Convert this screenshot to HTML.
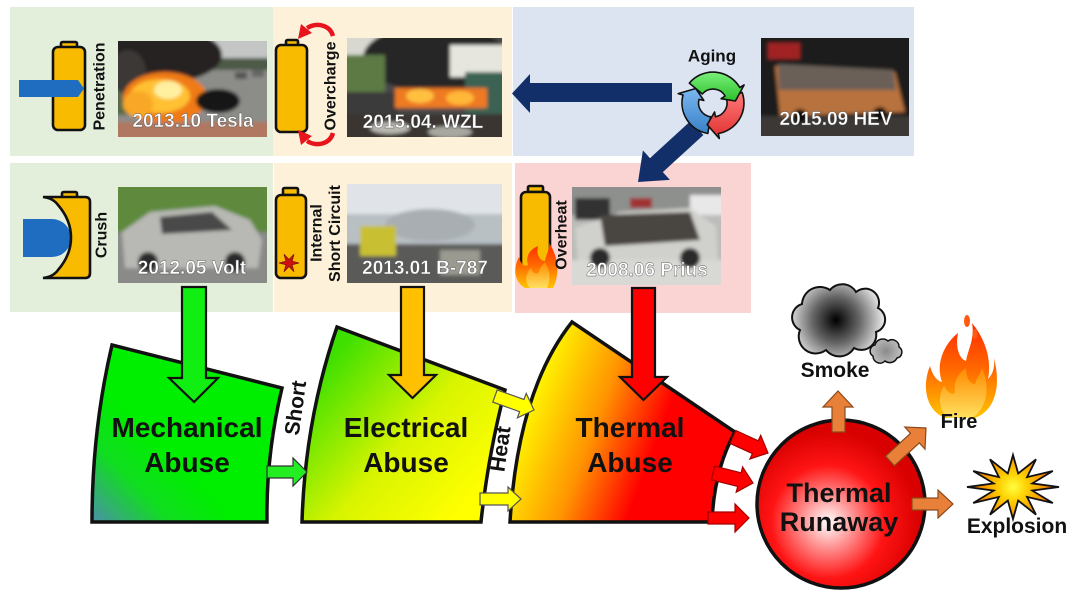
<!DOCTYPE html>
<html><head><meta charset="utf-8"><style>html,body{margin:0;padding:0;background:#fff;}svg{display:block;}</style></head>
<body>
<svg width="1080" height="595" viewBox="0 0 1080 595" xmlns="http://www.w3.org/2000/svg" font-family="'Liberation Sans', Arial, sans-serif" font-weight="bold">
<defs>
<filter id="bl" x="-10%" y="-10%" width="120%" height="120%"><feGaussianBlur stdDeviation="1.8"/></filter>
<clipPath id="c1"><rect x="118" y="41" width="149" height="96"/></clipPath>
<clipPath id="c2"><rect x="347" y="38" width="155" height="99"/></clipPath>
<clipPath id="c3"><rect x="761" y="38" width="148" height="98"/></clipPath>
<clipPath id="c4"><rect x="118" y="187" width="149" height="96"/></clipPath>
<clipPath id="c5"><rect x="347" y="184" width="155" height="99"/></clipPath>
<clipPath id="c6"><rect x="572" y="187" width="149" height="98"/></clipPath>
<linearGradient id="gMech" gradientUnits="userSpaceOnUse" x1="92" y1="522" x2="165" y2="450"><stop offset="0" stop-color="#4a90a8"/><stop offset="0.55" stop-color="#10dd20"/><stop offset="1" stop-color="#00ee00"/></linearGradient>
<linearGradient id="gElec" gradientUnits="userSpaceOnUse" x1="320" y1="370" x2="470" y2="500"><stop offset="0" stop-color="#3ee000"/><stop offset="0.55" stop-color="#d8f400"/><stop offset="1" stop-color="#ffff00"/></linearGradient>
<linearGradient id="gTherm" gradientUnits="userSpaceOnUse" x1="530" y1="380" x2="690" y2="440"><stop offset="0" stop-color="#ffff00"/><stop offset="0.45" stop-color="#ff9400"/><stop offset="0.82" stop-color="#ff0000"/><stop offset="1" stop-color="#ff0000"/></linearGradient>
<radialGradient id="gCirc" gradientUnits="userSpaceOnUse" cx="828" cy="522" r="92"><stop offset="0" stop-color="#ffffff"/><stop offset="0.3" stop-color="#ff8a8a"/><stop offset="0.62" stop-color="#ff1414"/><stop offset="1" stop-color="#d80000"/></radialGradient>
<radialGradient id="gSmoke" gradientUnits="userSpaceOnUse" cx="836" cy="320" r="52"><stop offset="0" stop-color="#000"/><stop offset="0.45" stop-color="#666"/><stop offset="1" stop-color="#fff"/></radialGradient>
<radialGradient id="gSmoke2" gradientUnits="userSpaceOnUse" cx="886" cy="351" r="18"><stop offset="0" stop-color="#8a8a8a"/><stop offset="1" stop-color="#c8c8c8"/></radialGradient>
<linearGradient id="gFire" x1="0" y1="0" x2="0" y2="1"><stop offset="0" stop-color="#ff2a00"/><stop offset="0.5" stop-color="#ff6a00"/><stop offset="1" stop-color="#ffc400"/></linearGradient>
<linearGradient id="gFire2" x1="0" y1="0" x2="0" y2="1"><stop offset="0" stop-color="#ff8a00"/><stop offset="1" stop-color="#ffe060"/></linearGradient>
<radialGradient id="gExp" gradientUnits="userSpaceOnUse" cx="1013" cy="487" r="40"><stop offset="0" stop-color="#ffff40"/><stop offset="0.35" stop-color="#ffd000"/><stop offset="1" stop-color="#f07000"/></radialGradient>
<linearGradient id="gGreen" x1="0" y1="0" x2="0" y2="1"><stop offset="0" stop-color="#7af07a"/><stop offset="1" stop-color="#2cc02c"/></linearGradient>
<linearGradient id="gRed" x1="0" y1="0" x2="0" y2="1"><stop offset="0" stop-color="#ff7a7a"/><stop offset="1" stop-color="#e03030"/></linearGradient>
<linearGradient id="gBlue" x1="0" y1="0" x2="0" y2="1"><stop offset="0" stop-color="#7ab8ef"/><stop offset="1" stop-color="#3a80c8"/></linearGradient>
</defs>

<!-- panels -->
<rect x="10" y="7" width="263" height="149" fill="#e3eedb"/>
<rect x="273" y="7" width="239" height="149" fill="#fdf1d9"/>
<rect x="513" y="7" width="401" height="149" fill="#dce3f1"/>
<rect x="10" y="163" width="263" height="149" fill="#e3eedb"/>
<rect x="274" y="163" width="238" height="149" fill="#fdf1d9"/>
<rect x="515" y="163" width="236" height="150" fill="#fad4d3"/>

<!-- photo: Tesla -->
<g clip-path="url(#c1)"><g filter="url(#bl)">
<rect x="110" y="35" width="165" height="110" fill="#8c8c88"/>
<rect x="200" y="35" width="75" height="28" fill="#c4c6c6"/>
<rect x="210" y="58" width="65" height="12" fill="#4e5a46"/>
<rect x="110" y="80" width="40" height="35" fill="#5a6a4a"/>
<ellipse cx="160" cy="55" rx="62" ry="28" fill="#262322"/>
<ellipse cx="128" cy="72" rx="18" ry="22" fill="#3a3836"/>
<ellipse cx="165" cy="98" rx="42" ry="26" fill="#f07a18"/>
<ellipse cx="160" cy="96" rx="30" ry="17" fill="#ffc030"/>
<ellipse cx="168" cy="90" rx="14" ry="9" fill="#fff0a0"/>
<ellipse cx="138" cy="104" rx="15" ry="13" fill="#f8a828"/>
<ellipse cx="218" cy="101" rx="22" ry="12" fill="#161616"/>
<rect x="235" y="72" width="12" height="7" fill="#555"/>
<rect x="252" y="70" width="12" height="7" fill="#666"/>
<rect x="110" y="122" width="165" height="20" fill="#b07860"/>
</g></g>
<!-- photo: WZL -->
<g clip-path="url(#c2)"><g filter="url(#bl)">
<rect x="340" y="30" width="170" height="115" fill="#4a4a48"/>
<rect x="340" y="30" width="50" height="25" fill="#d8d8d0"/>
<ellipse cx="435" cy="58" rx="72" ry="34" fill="#252525"/>
<rect x="340" y="55" width="45" height="42" fill="#5d7a45"/>
<rect x="450" y="45" width="60" height="32" fill="#e6e6de"/>
<rect x="465" y="72" width="45" height="70" fill="#3a6252"/>
<rect x="340" y="92" width="58" height="22" fill="#3a3a3a"/>
<rect x="395" y="88" width="92" height="20" fill="#ee7a22"/>
<ellipse cx="420" cy="96" rx="14" ry="7" fill="#ffc040"/>
<ellipse cx="460" cy="98" rx="14" ry="7" fill="#ffb838"/>
<rect x="340" y="114" width="170" height="30" fill="#3a3632"/>
<ellipse cx="390" cy="128" rx="20" ry="6" fill="#b8b8b0"/>
<ellipse cx="450" cy="132" rx="22" ry="6" fill="#a8a8a0"/>
</g></g>
<!-- photo: HEV -->
<g clip-path="url(#c3)"><g filter="url(#bl)">
<rect x="755" y="30" width="160" height="115" fill="#1e1c1c"/>
<rect x="768" y="43" width="32" height="16" fill="#a02424"/>
<polygon points="775,66 895,72 905,112 780,116" fill="#b8723e"/>
<polygon points="778,64 893,70 896,90 779,90" fill="#6a6058"/>
<rect x="755" y="116" width="160" height="25" fill="#3a3836"/>
<circle cx="800" cy="116" r="7" fill="#111"/>
<circle cx="880" cy="114" r="7" fill="#111"/>
</g></g>
<!-- photo: Volt -->
<g clip-path="url(#c4)"><g filter="url(#bl)">
<rect x="110" y="180" width="165" height="110" fill="#8a8a88"/>
<rect x="110" y="180" width="165" height="52" fill="#5e8a3e"/>
<polygon points="122,232 150,212 215,206 250,220 262,240 258,268 125,268" fill="#b8b8b4"/>
<polygon points="160,217 212,212 232,230 162,234" fill="#484848"/>
<circle cx="148" cy="262" r="10" fill="#2a2a2a"/>
<circle cx="235" cy="262" r="10" fill="#2a2a2a"/>
</g></g>
<!-- photo: B-787 -->
<g clip-path="url(#c5)"><g filter="url(#bl)">
<rect x="340" y="178" width="170" height="110" fill="#8a8c8e"/>
<rect x="340" y="178" width="170" height="38" fill="#e0e4e8"/>
<rect x="340" y="214" width="170" height="30" fill="#b8c0c4"/>
<ellipse cx="430" cy="225" rx="45" ry="16" fill="#a8aeb2"/>
<rect x="340" y="244" width="170" height="45" fill="#5a5a58"/>
<rect x="360" y="226" width="36" height="30" fill="#c8c030"/>
<rect x="440" y="250" width="40" height="25" fill="#9a9a90"/>
</g></g>
<!-- photo: Prius -->
<g clip-path="url(#c6)"><g filter="url(#bl)">
<rect x="565" y="180" width="165" height="110" fill="#bcbcba"/>
<rect x="565" y="180" width="165" height="35" fill="#8e908e"/>
<rect x="575" y="198" width="35" height="22" fill="#303030"/>
<rect x="630" y="198" width="22" height="10" fill="#a03030"/>
<rect x="690" y="195" width="35" height="20" fill="#e8e8e8"/>
<polygon points="575,228 620,212 690,208 716,226 718,262 578,262" fill="#d0d0cc"/>
<polygon points="600,215 690,212 700,240 605,246" fill="#4a4540"/>
<rect x="565" y="260" width="165" height="30" fill="#d8d8d4"/>
<circle cx="600" cy="258" r="10" fill="#2a2a2a"/>
<circle cx="690" cy="258" r="10" fill="#2a2a2a"/>
</g></g>

<!-- captions -->
<g fill="#ffffff" font-size="19" text-anchor="middle" stroke="#555" stroke-width="0.4">
<text x="193" y="127">2013.10 Tesla</text>
<text x="423" y="128">2015.04. WZL</text>
<text x="836" y="125">2015.09 HEV</text>
<text x="192" y="274">2012.05 Volt</text>
<text x="425" y="274">2013.01 B-787</text>
<text x="647" y="276">2008.06 Prius</text>
</g>

<!-- crush shape (under battery) -->
<path d="M23,219 L52,219 A19,19 0 0 1 52,257 L23,257 Z" fill="#1f6dc0"/>

<!-- batteries -->
<g fill="#f9bb00" stroke="#111" stroke-width="2.6">
<rect x="61" y="42" width="16" height="6" rx="1.5"/>
<rect x="53" y="47" width="32" height="83" rx="5"/>
<rect x="286" y="40" width="12" height="6" rx="1.5"/>
<rect x="276" y="45" width="31" height="87" rx="5"/>
<rect x="62" y="192" width="15" height="6" rx="1.5"/>
<path d="M43,197 L85,197 Q90,197 90,202 L90,273 Q90,278 85,278 L43,278 Q53,277 58,270 Q71,255 71,237.5 Q71,220 58,205 Q53,198 43,197 Z"/>
<rect x="283" y="188" width="15" height="7" rx="1.5"/>
<rect x="276" y="195" width="30" height="83" rx="5"/>
<rect x="528" y="186" width="15" height="6" rx="1.5"/>
<rect x="521" y="192" width="29" height="93" rx="5"/>
</g>
<!-- penetration arrow -->
<polygon points="19,80 78,80 84,88.5 78,97 19,97" fill="#1f6dc0"/>
<!-- overcharge arrows -->
<path d="M333,36 C330,25 317,22 307,28" fill="none" stroke="#e8141c" stroke-width="4.5"/>
<polygon points="298,39 301,24 312,33" fill="#e8141c"/>
<path d="M333,133 C330,144 317,147 307,141" fill="none" stroke="#e8141c" stroke-width="4.5"/>
<polygon points="298,130 301,145 312,136" fill="#e8141c"/>
<!-- internal short star -->
<polygon points="299,263 292,264.75 294,271.7 289,266.5 284,271.7 286,264.75 279,263 286,261.25 284,254.3 289,259.5 294,254.3 292,261.25" fill="#d01010" stroke="#801010" stroke-width="0.8"/>
<!-- overheat fire -->
<path d="M525,288 C514,282 513,268 519,257 C521,265 525,267 528,265 C525,255 531,249 538,246 C536,255 540,261 545,261 C546,254 550,249 549,243 C557,254 561,272 553,288 Z" fill="url(#gFire)"/>
<path d="M530,288 C524,282 526,272 531,268 C533,274 537,275 539,272 C540,266 544,264 545,262 C550,270 551,280 547,288 Z" fill="url(#gFire2)"/>

<!-- vertical labels -->
<g fill="#111" font-size="16" text-anchor="middle" dominant-baseline="central">
<text x="100" y="86.5" transform="rotate(-90 100 86.5)">Penetration</text>
<text x="331" y="86" transform="rotate(-90 331 86)">Overcharge</text>
<text x="102" y="235" transform="rotate(-90 102 235)">Crush</text>
<text x="317" y="233" transform="rotate(-90 317 233)">Internal</text>
<text x="335.5" y="233.5" transform="rotate(-90 335.5 233.5)">Short Circuit</text>
<text x="562" y="235" transform="rotate(-90 562 235)">Overheat</text>
</g>
<text x="712" y="61.5" font-size="17" text-anchor="middle" fill="#111">Aging</text>

<!-- navy arrows -->
<polygon points="672,83 530,83 530,74 512,93.5 530,113 530,102 672,102" fill="#132f6a"/>
<polygon points="690.6,121 650,158.1 642.9,150.4 638,182 669.9,179.9 662.8,172.1 703.4,135" fill="#132f6a"/>

<!-- cycle icon -->
<g stroke="#111" stroke-width="1.6" stroke-linejoin="round">
<path d="M707.8,133.5 A31,31 0 0 1 683,95 L678.2,93.6 L695.8,88.5 L703.8,100.5 L699,99.4 A14,14 0 0 0 710.6,116.8 Z" fill="url(#gBlue)"/>
<path d="M742.1,92.4 A31,31 0 0 1 718.4,133.5 L719.3,138.5 L707.2,124.7 L714.6,112 L715.4,116.8 A14,14 0 0 0 726.2,98.2 Z" fill="url(#gRed)"/>
<path d="M689.3,83.1 A31,31 0 0 1 739.8,87.5 L744.1,85 L735.4,101 L721.1,98.7 L725.1,96 A14,14 0 0 0 702.3,94 Z" fill="url(#gGreen)"/>
</g>

<!-- big shapes -->
<g stroke="#111" stroke-width="3.5" stroke-linejoin="miter">
<path d="M112,345 L282,388 Q266,455 267,522 L92,522 Q92,430 112,345 Z" fill="url(#gMech)"/>
<path d="M337,327 L505,390 Q488,456 481,522 L302,522 Q305,420 337,327 Z" fill="url(#gElec)"/>
<path d="M572,322 L735,432 Q714,470 712,522 L510,522 Q518,390 572,322 Z" fill="url(#gTherm)"/>
</g>

<!-- small arrows -->
<polygon points="267,466 293,466 293,458 307,472 293,486 293,478 267,478" fill="#22ee22" stroke="#333" stroke-width="1.2"/>
<polygon points="497.2,389.9 524,399.5 526.2,393.4 534,410 517.4,417.8 519.6,411.7 492.8,402.1" fill="#ffff00" stroke="#555" stroke-width="1.2"/>
<polygon points="480,493 508,493 508,487 521,499 508,511 508,505 480,505" fill="#ffff00" stroke="#555" stroke-width="1.2"/>

<!-- big vertical arrows -->
<polygon points="182,287 206,287 206,378 218,378 194,402 169,378 182,378" fill="#11ee11" stroke="#111" stroke-width="2.2"/>
<polygon points="401,287 424,287 424,375 436,375 412.5,398 389,375 401,375" fill="#ffc000" stroke="#111" stroke-width="2.2"/>
<polygon points="632,288 655,288 655,377 667,377 643.5,400 620,377 632,377" fill="#ff0000" stroke="#111" stroke-width="2.2"/>

<!-- red arrows to circle -->
<g fill="#ff0000" stroke="#a00000" stroke-width="1.2">
<polygon points="735.9,430.6 758.2,440.8 760.7,435.4 768,453 749.9,459 752.4,453.6 730.1,443.4"/>
<polygon points="714.7,466.2 741.1,472.8 742.6,467 753,483 736.2,492.2 737.7,486.4 711.3,479.8"/>
<polygon points="708,512 735,512 735,504 749,518 735,532 735,524 708,524"/>
</g>

<!-- thermal runaway circle -->
<circle cx="841" cy="504" r="84" fill="url(#gCirc)" stroke="#111" stroke-width="3.5"/>

<!-- orange arrows -->
<g fill="#e8803a" stroke="#8a4a1a" stroke-width="1.2">
<polygon points="832,432 832,407 823,407 838,391 853,407 845,407 845,432"/>
<polygon points="885.6,456.2 910.5,433.3 904.8,427 926,428 925,449.2 919.3,442.9 894.4,465.8"/>
<polygon points="912,498 938,498 938,490 953,504 938,518 938,510 912,510"/>
</g>

<!-- smoke -->
<path d="M800,330 a14,14 0 0 1 2,-26 a18,18 0 0 1 28,-14 a16,16 0 0 1 26,2 a14,14 0 0 1 22,16 a13,13 0 0 1 -2,24 a15,15 0 0 1 -22,16 a17,17 0 0 1 -28,2 a17,17 0 0 1 -26,-20 Z" fill="url(#gSmoke)" stroke="#111" stroke-width="2"/>
<path d="M873,356 a6,6 0 0 1 2,-11 a8,8 0 0 1 13,-4 a7,7 0 0 1 11,6 a6,6 0 0 1 -2,11 a8,8 0 0 1 -12,3 a7,7 0 0 1 -12,-5 Z" fill="url(#gSmoke2)" stroke="#111" stroke-width="1.5"/>

<!-- fire -->
<path d="M945,418 C925,410 922,385 930,366 C933,377 938,381 942,382 C935,363 945,343 958,333 C955,349 960,359 966,361 C968,349 975,339 972,323 C985,339 992,359 988,379 C993,374 995,367 994,358 C1001,385 996,410 975,418 Z" fill="url(#gFire)"/>
<path d="M948,418 C938,410 938,395 944,386 C948,393 952,395 955,393 C953,380 960,372 966,368 C966,378 970,384 975,384 C977,377 981,373 982,368 C990,385 988,408 972,418 Z" fill="url(#gFire2)"/>
<ellipse cx="967" cy="321" rx="3" ry="6" fill="#ff5a10"/>
<ellipse cx="975" cy="334" rx="2.5" ry="5" fill="#ff5a10"/>

<!-- explosion -->
<polygon points="1059,487 1032.3,490.6 1052.8,503 1027.1,496.9 1036,514.7 1018.2,500.5 1013,519 1007.8,500.5 990,514.7 998.9,496.9 973.2,503 993.7,490.6 967,487 993.7,483.4 973.2,471 998.9,477.1 990,459.3 1007.8,473.5 1013,455 1018.2,473.5 1036,459.3 1027.1,477.1 1052.8,471 1032.3,483.4" fill="url(#gExp)" stroke="#111" stroke-width="1.8" stroke-linejoin="miter"/>

<!-- main texts -->
<g fill="#111" text-anchor="middle" font-size="28">
<text x="187" y="437">Mechanical</text>
<text x="187" y="472">Abuse</text>
<text x="406" y="437">Electrical</text>
<text x="406" y="472">Abuse</text>
<text x="630" y="437">Thermal</text>
<text x="630" y="472">Abuse</text>
<text x="839" y="502" font-size="27">Thermal</text>
<text x="839" y="531" font-size="27">Runaway</text>
</g>
<g fill="#111" text-anchor="middle" font-size="21">
<text x="835" y="377">Smoke</text>
<text x="959" y="428" font-size="20">Fire</text>
<text x="1017" y="533">Explosion</text>
</g>
<g fill="#111" text-anchor="middle" dominant-baseline="central" font-size="21">
<text x="296" y="408" transform="rotate(-82 296 408)">Short</text>
<text x="501" y="449" transform="rotate(-82 501 449)">Heat</text>
</g>
</svg>
</body></html>
